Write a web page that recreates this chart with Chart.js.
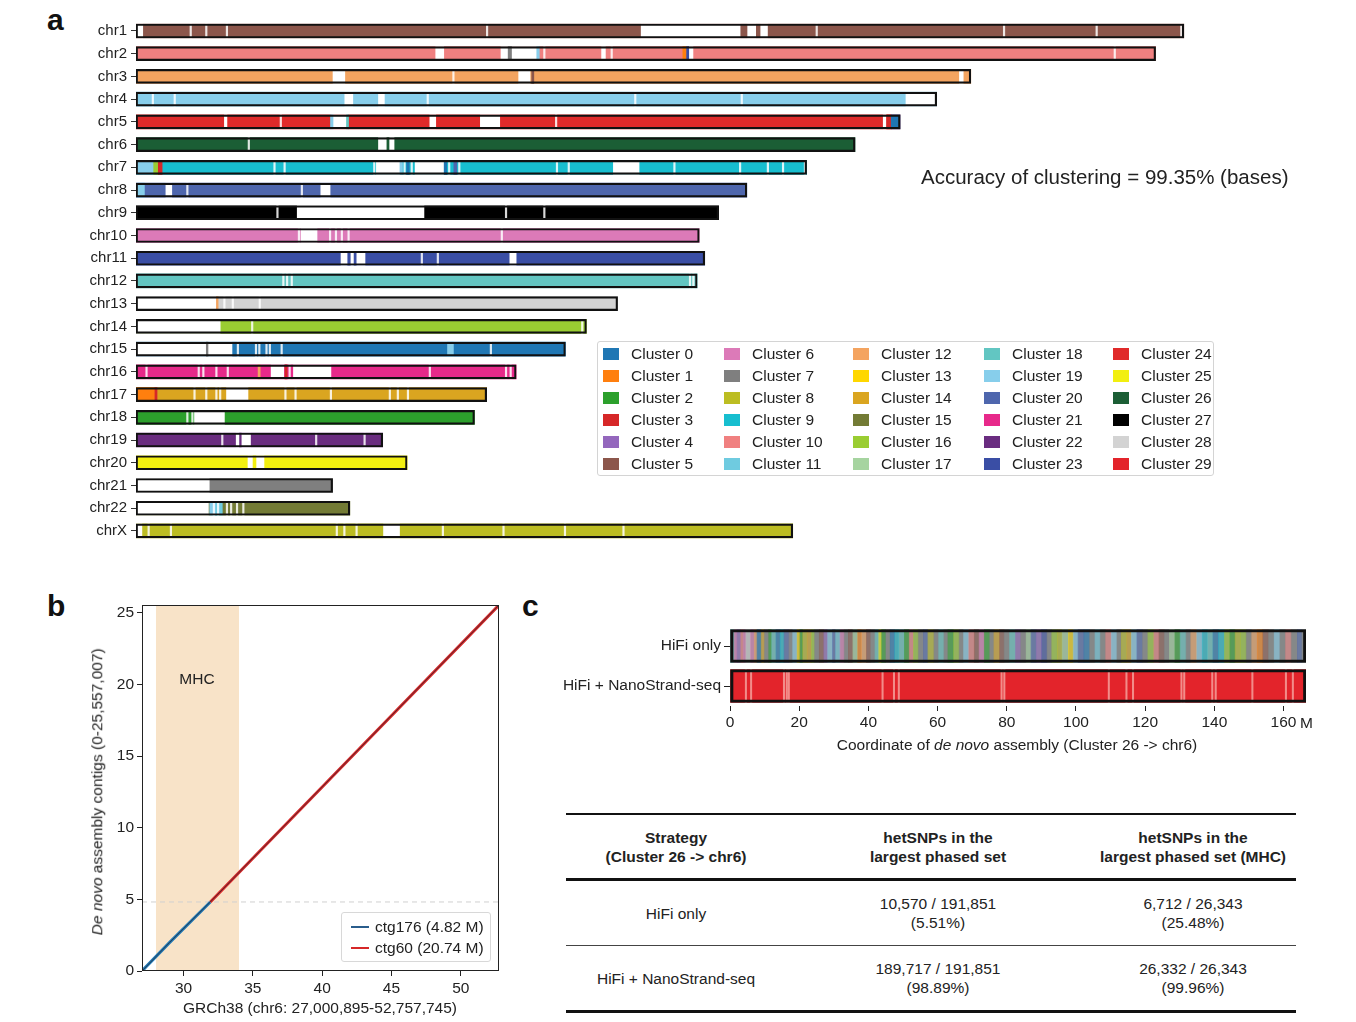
<!DOCTYPE html>
<html>
<head>
<meta charset="utf-8">
<script src="https://cdn.jsdelivr.net/npm/chart.js@4.4.1/dist/chart.umd.min.js"></script>
<style>
  body { margin: 0; background: #fff; font-family: "Liberation Sans", Arial, sans-serif; color: #222; }
  #page { position: relative; width: 1356px; height: 1022px; overflow: hidden; }
  .abs { position: absolute; white-space: nowrap; line-height: 1; }
  .plabel { font-weight: bold; font-size: 30px; line-height: 30px; color: #111; }
  canvas { position: absolute; }
  #clusterLegend { position: absolute; left: 597px; top: 341px; width: 617px; height: 135px;
    border: 1px solid #d4d4d4; border-radius: 3px; box-sizing: border-box; }
  .lg-sw { position: absolute; width: 16px; height: 12px; }
  .lg-tx { position: absolute; font-size: 15.5px; line-height: 16px; }
  #ctgLegend { position: absolute; left: 341px; top: 912px; width: 150px; height: 50px;
    border: 1px solid #d8d8d8; border-radius: 3px; box-sizing: border-box; background: rgba(255,255,255,0.9); }
  #phaseTable { position: absolute; left: 566px; top: 813px; width: 730px; border-collapse: collapse; font-size: 15.5px; }
  #phaseTable td, #phaseTable th { text-align: center; padding: 0; line-height: 19px; }
  #phaseTable th { font-weight: bold; height: 63px; border-top: 2px solid #111; border-bottom: 3px solid #111; }
</style>
</head>
<body>
<div id="page">
  <div class="abs plabel" style="left:47px; top:5px;">a</div>
  <div class="abs plabel" style="left:47px; top:591px;">b</div>
  <div class="abs plabel" style="left:522px; top:591px;">c</div>

  <canvas id="chromChart" width="1300" height="560" style="left:0; top:0;"></canvas>
  <div class="abs" style="left:921px; top:167px; font-size:20.5px;">Accuracy of clustering = 99.35% (bases)</div>
  <div id="clusterLegend"></div>

  <canvas id="dotChart" width="470" height="430" style="left:40px; top:590px;"></canvas>
  <div class="abs" style="left:167px; top:671px; width:60px; text-align:center; font-size:15.5px;">MHC</div>
  <div class="abs" style="left:120px; top:1000px; width:400px; text-align:center; font-size:15.5px;">GRCh38 (chr6: 27,000,895-52,757,745)</div>
  <div class="abs" style="left:-103px; top:784px; width:400px; text-align:center; font-size:15.5px; transform:rotate(-90deg);"><i>De novo</i> assembly contigs (0-25,557,007)</div>
  <div id="ctgLegend"></div>

  <canvas id="phaseChart" width="800" height="160" style="left:520px; top:600px;"></canvas>
  <div class="abs" style="left:1300px; top:715px; font-size:15.5px;">M</div>
  <div class="abs" style="left:767px; top:737px; width:500px; text-align:center; font-size:15.5px;">Coordinate of <i>de novo</i> assembly (Cluster 26 -&gt; chr6)</div>

  <table id="phaseTable"></table>
</div>

<script>
// ---------- panel a data ----------
const clusterNames = Array.from({ length: 30 }, (_, i) => "Cluster " + i);
const clusterColors = [
  "#1f77b4", "#ff7f0e", "#2ca02c", "#d62728", "#9467bd", "#8c564b",
  "#dc7ab8", "#7f7f7f", "#bcbd22", "#17becf", "#f08080", "#6fcbe0",
  "#f4a460", "#ffd700", "#daa520", "#737b35", "#9acd32", "#a6d4a0",
  "#62c6c2", "#87ceeb", "#4e66ad", "#e7298a", "#6a2c80", "#3a4ea5",
  "#e02a2a", "#f2ef10", "#1b5e35", "#000000", "#d3d3d3", "#e3242b",
];

const chromNames = ["chr1", "chr2", "chr3", "chr4", "chr5", "chr6", "chr7", "chr8", "chr9", "chr10",
  "chr11", "chr12", "chr13", "chr14", "chr15", "chr16", "chr17", "chr18", "chr19", "chr20",
  "chr21", "chr22", "chrX"];
const chromLengths = [248.9, 242.2, 198.3, 190.2, 181.5, 170.8, 159.3, 145.1, 138.4, 133.8,
  135.1, 133.3, 114.4, 107.0, 102.0, 90.3, 83.3, 80.4, 58.6, 64.4, 46.7, 50.8, 156.0];
const chromMainCluster = [5, 10, 12, 19, 24, 26, 9, 20, 27, 6, 23, 18, 28, 16, 0, 21, 14, 2, 22, 25, 7, 15, 8];

// unassigned (white) stretches [chrom, start Mb, end Mb]
const chromGaps = [
  ["chr1", 0, 1.6], ["chr1", 120.0, 143.5], ["chr1", 145.3, 147.2], ["chr1", 148.4, 150.0],
  ["chr2", 71.2, 73.1], ["chr2", 86.7, 95.6], ["chr2", 110.6, 111.5], ["chr2", 131.4, 132.3],
  ["chr3", 46.8, 49.6], ["chr3", 90.9, 93.6], ["chr3", 195.6, 196.5],
  ["chr4", 49.6, 51.5], ["chr4", 57.6, 59.0], ["chr4", 182.9, 190.2],
  ["chr5", 21.0, 21.6], ["chr5", 46.5, 50.2], ["chr5", 69.8, 71.2], ["chr5", 81.8, 86.4], ["chr5", 177.5, 178.2],
  ["chr6", 57.6, 61.3],
  ["chr7", 57.1, 62.7], ["chr7", 66.3, 73.1], ["chr7", 113.4, 119.5],
  ["chr8", 7.1, 8.5], ["chr8", 43.9, 46.1],
  ["chr9", 38.3, 68.4],
  ["chr10", 39.2, 43.0],
  ["chr11", 48.7, 54.4], ["chr11", 88.8, 90.3],
  ["chr13", 0, 19.1],
  ["chr14", 0, 20.0],
  ["chr15", 0, 22.8],
  ["chr16", 32.1, 35.1], ["chr16", 37.4, 46.3],
  ["chr17", 21.5, 26.6],
  ["chr18", 13.9, 21.0],
  ["chr19", 23.8, 27.2],
  ["chr20", 26.6, 30.4],
  ["chr21", 0, 17.4],
  ["chr22", 0, 17.2],
  ["chrX", 0, 1.4], ["chrX", 58.8, 62.6],
];

// pieces assigned to another cluster [chrom, start, end, cluster]
const chromFragments = [
  ["chr2", 88.4, 89.2, 7], ["chr2", 95.2, 95.8, 19], ["chr2", 129.9, 130.7, 1], ["chr2", 130.8, 131.3, 23],
  ["chr3", 94.0, 94.5, 5],
  ["chr5", 46.2, 46.8, 19], ["chr5", 50.0, 50.5, 18], ["chr5", 178.3, 179.4, 3], ["chr5", 179.4, 181.5, 0],
  ["chr6", 59.6, 60.1, 26],
  ["chr7", 0, 4.2, 19], ["chr7", 4.2, 5.3, 16], ["chr7", 5.3, 6.2, 3], ["chr7", 62.7, 63.3, 19],
  ["chr7", 64.3, 64.9, 0], ["chr7", 73.2, 73.8, 0], ["chr7", 75.5, 76.2, 20],
  ["chr8", 0.3, 2.0, 19],
  ["chr11", 50.3, 50.9, 23], ["chr11", 51.8, 52.3, 23],
  ["chr13", 19.1, 19.5, 12],
  ["chr15", 16.7, 17.1, 7], ["chr15", 74.0, 75.4, 19],
  ["chr16", 29.0, 29.5, 12], ["chr16", 35.4, 35.9, 3],
  ["chr17", 0, 4.5, 1], ["chr17", 4.5, 5.0, 3],
  ["chr19", 24.6, 25.0, 22],
  ["chr20", 27.8, 28.5, 25],
  ["chr22", 17.5, 19.0, 19], ["chr22", 19.0, 20.5, 11],
];

// thin unassigned lines [chrom, position Mb]
const chromLines = [
  ["chr1", 13.0], ["chr1", 16.7], ["chr1", 21.6], ["chr1", 83.4], ["chr1", 161.7], ["chr1", 206.2], ["chr1", 228.2], ["chr1", 248.3],
  ["chr2", 97.0], ["chr2", 113.0], ["chr2", 232.5],
  ["chr3", 75.4],
  ["chr4", 4.0], ["chr4", 9.2], ["chr4", 69.3], ["chr4", 118.6], ["chr4", 143.9],
  ["chr5", 34.4], ["chr5", 99.8],
  ["chr6", 26.8],
  ["chr7", 32.9], ["chr7", 35.3], ["chr7", 56.6], ["chr7", 63.8], ["chr7", 65.5], ["chr7", 74.4], ["chr7", 76.8],
  ["chr7", 100.0], ["chr7", 102.8], ["chr7", 127.9], ["chr7", 143.5], ["chr7", 150.1], ["chr7", 153.7], ["chr7", 158.9],
  ["chr8", 12.2], ["chr8", 39.4],
  ["chr9", 33.6], ["chr9", 87.9], ["chr9", 97.0],
  ["chr10", 38.7], ["chr10", 46.1], ["chr10", 47.5], ["chr10", 48.9], ["chr10", 50.5], ["chr10", 86.9],
  ["chr11", 67.9], ["chr11", 71.7],
  ["chr12", 35.0], ["chr12", 35.9], ["chr12", 37.0], ["chr12", 131.6], ["chr12", 132.4],
  ["chr13", 21.0], ["chr13", 23.0], ["chr13", 29.4],
  ["chr14", 27.6], ["chr14", 106.0],
  ["chr15", 24.2], ["chr15", 28.5], ["chr15", 29.3], ["chr15", 31.0], ["chr15", 31.8], ["chr15", 34.6], ["chr15", 84.3],
  ["chr16", 2.5], ["chr16", 14.9], ["chr16", 16.0], ["chr16", 19.1], ["chr16", 21.8], ["chr16", 36.5], ["chr16", 69.8], ["chr16", 87.9], ["chr16", 89.0],
  ["chr17", 13.9], ["chr17", 16.7], ["chr17", 19.1], ["chr17", 20.0], ["chr17", 35.5], ["chr17", 37.9], ["chr17", 46.3],
  ["chr17", 60.3], ["chr17", 62.2], ["chr17", 64.6],
  ["chr18", 12.2], ["chr18", 13.4],
  ["chr19", 20.5], ["chr19", 42.8], ["chr19", 54.3],
  ["chr22", 18.5], ["chr22", 19.5], ["chr22", 21.6], ["chr22", 22.6], ["chr22", 24.0], ["chr22", 25.5],
  ["chrX", 3.0], ["chrX", 8.3], ["chrX", 47.7], ["chrX", 49.5], ["chrX", 52.4], ["chrX", 72.9], ["chrX", 87.3], ["chrX", 101.9], ["chrX", 115.8],
];

// ---------- panel b data ----------
const dotXRange = [27.000895, 52.757745];
const dotYRange = [0, 25.557007];
const mhcRange = [28.0, 34.0];
const ctg176Length = 4.82;
const ctg176Points = [[27.0009, 0], [29.0, 2.0], [31.93, 4.82]];
const ctg60Points = [[31.93, 4.82], [40.0, 12.85], [52.7577, 25.557]];
const dotXTicks = [30, 35, 40, 45, 50];
const dotYTicks = [0, 5, 10, 15, 20, 25];
const ctgLegend = [["ctg176 (4.82 M)", "#2a5d8c"], ["ctg60 (20.74 M)", "#d62728"]];

// ---------- panel c data ----------
const phaseLabels = ["HiFi only", "HiFi + NanoStrand-seq"];
const contigLength = 166.5;
const phaseXTicks = [0, 20, 40, 60, 80, 100, 120, 140, 160];
// HiFi only: [block start M, cluster]
const hifiOnlyStripes = [
  [0, 18], [1.2, 6], [2.0, 4], [3.1, 10], [3.8, 6], [4.6, 28], [5.9, 6], [7.0, 12], [7.8, 0], [9.0, 14],
  [9.9, 7], [11.2, 2], [12.0, 18], [13.3, 0], [14.5, 9], [15.6, 20], [17.0, 7], [18.1, 19], [19.4, 13], [20.2, 2],
  [21.0, 8], [22.3, 14], [23.5, 16], [24.4, 7], [25.8, 5], [27.1, 4], [28.2, 19], [29.6, 20], [30.5, 11], [31.8, 6],
  [33.0, 7], [34.2, 5], [35.5, 17], [36.9, 1], [38.0, 12], [39.4, 5], [40.6, 7], [41.9, 18], [43.0, 25], [43.8, 2],
  [45.0, 7], [46.3, 0], [47.6, 9], [48.8, 18], [50.4, 2], [51.8, 10], [53.0, 16], [54.4, 7], [55.9, 20], [57.2, 8],
  [58.9, 7], [60.3, 18], [61.8, 7], [63.0, 2], [64.6, 16], [66.2, 7], [67.5, 19], [69.0, 10], [70.6, 5], [72.0, 6],
  [73.5, 2], [75.0, 7], [76.3, 14], [77.9, 5], [79.2, 7], [80.8, 18], [82.5, 4], [84.0, 7], [85.6, 17], [87.0, 20],
  [88.5, 4], [90.1, 23], [91.6, 7], [93.0, 16], [94.6, 8], [96.0, 17], [97.8, 13], [99.2, 19], [100.6, 20], [102.3, 0],
  [103.9, 7], [105.5, 11], [107.0, 7], [108.6, 10], [110.2, 19], [111.8, 7], [113.1, 8], [114.7, 14], [116.0, 19], [117.6, 20],
  [119.2, 7], [120.8, 16], [122.5, 10], [124.0, 5], [125.5, 7], [127.0, 17], [128.6, 2], [130.1, 18], [131.8, 7], [133.2, 12],
  [134.9, 19], [136.5, 9], [138.0, 18], [139.6, 0], [141.2, 9], [142.9, 16], [144.5, 2], [146.0, 8], [147.6, 16], [149.2, 7],
  [150.8, 12], [152.4, 1], [154.0, 5], [155.6, 7], [157.3, 19], [158.9, 7], [160.6, 10], [162.2, 7], [164.0, 20], [165.3, 7],
];
const hifiNanoCluster = 29;
const hifiNanoLines = [4.6, 6.1, 15.6, 16.4, 17.0, 44.1, 47.4, 48.8, 78.5, 79.3, 109.5, 114.6, 116.5,
  130.5, 131.3, 139.4, 140.4, 151.0, 160.7, 162.7];

// ---------- table data ----------
const tableHeader = [["Strategy", "(Cluster 26 -> chr6)"], ["hetSNPs in the", "largest phased set"],
  ["hetSNPs in the", "largest phased set (MHC)"]];
const tableRows = [
  [["HiFi only"], ["10,570 / 191,851", "(5.51%)"], ["6,712 / 26,343", "(25.48%)"]],
  [["HiFi + NanoStrand-seq"], ["189,717 / 191,851", "(98.89%)"], ["26,332 / 26,343", "(99.96%)"]],
];

// ---------- helpers ----------
Chart.defaults.font.family = '"Liberation Sans", Arial, sans-serif';
Chart.defaults.font.size = 15.5;
Chart.defaults.color = "#222";

function withAlpha(hex, a) {
  const n = parseInt(hex.slice(1), 16);
  return `rgba(${(n >> 16) & 255},${(n >> 8) & 255},${n & 255},${a})`;
}

const frameBox = {
  id: "frameBox",
  afterDatasetsDraw(chart) {
    const { ctx, chartArea: a } = chart;
    ctx.save();
    ctx.strokeStyle = "#222";
    ctx.lineWidth = 1;
    ctx.strokeRect(a.left + 0.5, a.top + 0.5, a.right - a.left - 1, a.bottom - a.top - 1);
    ctx.restore();
  },
};

// ---------- panel a ----------
function createChromChart() {
  const full = chromNames.map((c, i) => ({ y: c, x: [0, chromLengths[i]] }));
  new Chart(document.getElementById("chromChart"), {
    type: "bar",
    data: {
      labels: chromNames,
      datasets: [
        { label: "outline", data: full, backgroundColor: "rgba(0,0,0,0)", borderColor: "#111",
          borderWidth: 1.5, borderSkipped: false, order: 0 },
        { label: "lines", data: chromLines.map(([c, p]) => ({ y: c, x: [p - 0.18, p + 0.18] })),
          backgroundColor: "rgba(255,255,255,0.85)", order: 1 },
        { label: "fragments", data: chromFragments.map(([c, s, e]) => ({ y: c, x: [s, e] })),
          backgroundColor: chromFragments.map((f) => clusterColors[f[3]]), order: 2 },
        { label: "gaps", data: chromGaps.map(([c, s, e]) => ({ y: c, x: [s, e] })),
          backgroundColor: "#ffffff", order: 3 },
        { label: "main", data: full, backgroundColor: chromMainCluster.map((k) => clusterColors[k]), order: 4 },
      ],
    },
    options: {
      indexAxis: "y",
      responsive: false,
      animation: false,
      events: [],
      layout: { padding: { top: 19.6, bottom: 17.7, left: 0, right: 0 } },
      datasets: { bar: { grouped: false, barThickness: 14, borderWidth: 0 } },
      plugins: { legend: { display: false }, tooltip: { enabled: false } },
      scales: {
        x: { type: "linear", min: 0, max: 276.5, display: false },
        y: {
          type: "category",
          afterFit(scale) { scale.width = 136; },
          grid: { offset: false, drawOnChartArea: false, tickLength: 5, color: "#333" },
          border: { display: false },
          ticks: { padding: 4, autoSkip: false, color: "#222", font: { size: 15 } },
        },
      },
    },
  });
}

function createClusterLegend() {
  const box = document.getElementById("clusterLegend");
  const colLeft = [5, 126, 255, 386, 515];
  clusterNames.forEach((name, i) => {
    const col = Math.floor(i / 6);
    const row = i % 6;
    const top = 12 + row * 22;
    const sw = document.createElement("div");
    sw.className = "lg-sw";
    sw.style.left = colLeft[col] + "px";
    sw.style.top = (top - 6) + "px";
    sw.style.background = clusterColors[i];
    const tx = document.createElement("div");
    tx.className = "lg-tx";
    tx.style.left = (colLeft[col] + 28) + "px";
    tx.style.top = (top - 8) + "px";
    tx.textContent = name;
    box.appendChild(sw);
    box.appendChild(tx);
  });
}

// ---------- panel b ----------
function createDotChart() {
  const pts = (arr) => arr.map(([x, y]) => ({ x, y }));
  new Chart(document.getElementById("dotChart"), {
    type: "scatter",
    data: {
      datasets: [
        { type: "line", data: mhcRange.map((x) => ({ x, y: dotYRange[1] })), fill: "start",
          backgroundColor: "#f8e3c8", borderWidth: 0, pointRadius: 0, order: 6 },
        { type: "line", data: [{ x: dotXRange[0], y: ctg176Length }, { x: dotXRange[1], y: ctg176Length }],
          borderColor: "#d0d0d0", borderDash: [5, 4], borderWidth: 1, pointRadius: 0, order: 5 },
        { type: "line", label: "ctg176", data: pts(ctg176Points), borderColor: "#1f77b4",
          borderWidth: 3, pointRadius: 0, order: 4 },
        { type: "line", label: "ctg60", data: pts(ctg60Points), borderColor: "#d62728",
          borderWidth: 3, pointRadius: 0, order: 3 },
        { type: "line", data: pts(ctg176Points.concat(ctg60Points)), borderColor: "rgba(40,40,50,0.75)",
          borderWidth: 1, pointRadius: 0, order: 2 },
      ],
    },
    options: {
      responsive: false,
      animation: false,
      events: [],
      layout: { padding: { top: 15, right: 11, left: 0, bottom: 0 } },
      plugins: { legend: { display: false }, tooltip: { enabled: false } },
      scales: {
        x: {
          type: "linear", min: dotXRange[0], max: dotXRange[1],
          afterBuildTicks(scale) { scale.ticks = dotXTicks.map((v) => ({ value: v })); },
          afterFit(scale) { scale.height = 49; },
          grid: { drawOnChartArea: false, tickLength: 5, color: "#222" },
          border: { display: false },
          ticks: { padding: 3, color: "#222" },
        },
        y: {
          type: "linear", min: dotYRange[0], max: dotYRange[1],
          afterBuildTicks(scale) { scale.ticks = dotYTicks.map((v) => ({ value: v })); },
          afterFit(scale) { scale.width = 102; },
          grid: { drawOnChartArea: false, tickLength: 5, color: "#222" },
          border: { display: false },
          ticks: { padding: 3, color: "#222" },
        },
      },
    },
    plugins: [frameBox],
  });
}

function createCtgLegend() {
  const box = document.getElementById("ctgLegend");
  ctgLegend.forEach(([text, color], i) => {
    const top = 14 + i * 21;
    const ln = document.createElement("div");
    ln.style.cssText = `position:absolute; left:9px; top:${top - 1}px; width:18px; height:2px; background:${color};`;
    const tx = document.createElement("div");
    tx.className = "lg-tx";
    tx.style.left = "33px";
    tx.style.top = (top - 8) + "px";
    tx.textContent = text;
    box.appendChild(ln);
    box.appendChild(tx);
  });
}

// ---------- panel c ----------
function createPhaseChart() {
  const full = phaseLabels.map((c) => ({ y: c, x: [0, contigLength] }));
  const stripes = hifiOnlyStripes.map(([s, k], i) => ({
    y: phaseLabels[0],
    x: [s, i + 1 < hifiOnlyStripes.length ? hifiOnlyStripes[i + 1][0] : contigLength],
  }));
  new Chart(document.getElementById("phaseChart"), {
    type: "bar",
    data: {
      labels: phaseLabels,
      datasets: [
        { label: "outline", data: full, backgroundColor: "rgba(0,0,0,0)", borderColor: "#111",
          borderWidth: 2.5, borderSkipped: false, order: 0 },
        { label: "nanoLines", data: hifiNanoLines.map((p) => ({ y: phaseLabels[1], x: [p - 0.2, p + 0.2] })),
          backgroundColor: "rgba(255,225,215,0.55)", order: 1 },
        { label: "stripes", data: stripes,
          backgroundColor: hifiOnlyStripes.map(([, k]) => withAlpha(clusterColors[k], 0.55)), order: 2 },
        { label: "base", data: full, backgroundColor: ["#8c9392", clusterColors[hifiNanoCluster]], order: 3 },
      ],
    },
    options: {
      indexAxis: "y",
      responsive: false,
      animation: false,
      events: [],
      layout: { padding: { top: 26, right: 14, left: 0, bottom: 0 } },
      datasets: { bar: { grouped: false, barThickness: 33, borderWidth: 0 } },
      plugins: { legend: { display: false }, tooltip: { enabled: false } },
      scales: {
        x: {
          type: "linear", min: 0, max: contigLength,
          afterBuildTicks(scale) { scale.ticks = phaseXTicks.map((v) => ({ value: v })); },
          afterFit(scale) { scale.height = 54; },
          grid: { drawOnChartArea: false, tickLength: 5, color: "#222" },
          border: { display: false },
          ticks: { padding: 2, color: "#222" },
        },
        y: {
          type: "category",
          afterFit(scale) { scale.width = 210; },
          grid: { offset: false, drawOnChartArea: false, tickLength: 6, color: "#222" },
          border: { display: false },
          ticks: { padding: 3, color: "#222" },
        },
      },
    },
  });
}

// ---------- table ----------
function createTable() {
  const table = document.getElementById("phaseTable");
  const widths = [220, 304, 206];
  const head = document.createElement("tr");
  tableHeader.forEach((lines, i) => {
    const th = document.createElement("th");
    th.style.width = widths[i] + "px";
    th.innerHTML = lines.map((l) => l.replace(">", "&gt;")).join("<br>");
    head.appendChild(th);
  });
  table.appendChild(head);
  tableRows.forEach((row, r) => {
    const tr = document.createElement("tr");
    row.forEach((lines) => {
      const td = document.createElement("td");
      td.style.height = "64px";
      td.style.borderBottom = r === tableRows.length - 1 ? "3px solid #111" : "1px solid #444";
      td.innerHTML = lines.join("<br>");
      tr.appendChild(td);
    });
    table.appendChild(tr);
  });
}

createChromChart();
createClusterLegend();
createDotChart();
createCtgLegend();
createPhaseChart();
createTable();
</script>
</body>
</html>
